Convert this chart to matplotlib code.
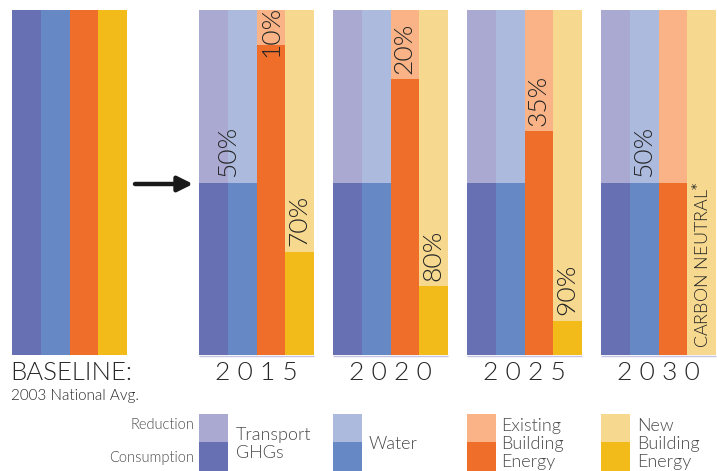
import matplotlib.pyplot as plt
from matplotlib.patches import Rectangle

plt.rcParams['font.family'] = ['Lato', 'DejaVu Sans']

# Datos: porcentaje de reduccion por anio y categoria
anios = ['2015', '2020', '2025', '2030']
transporte_red = [50, 50, 50, 50]
agua_red = [50, 50, 50, 50]
existentes_red = [10, 20, 35, 50]
nuevos_red = [70, 80, 90, 100]
linea_base = [100, 100, 100, 100]

categorias = ['Transport\nGHGs', 'Water', 'Existing\nBuilding\nEnergy', 'New\nBuilding\nEnergy']
col_consumo = ['#6870B4', '#6689C5', '#EF6F2A', '#F2BB1A']
col_reduccion = ['#A9A9D2', '#ABBADD', '#F9B386', '#F6D98F']

reducciones = [transporte_red, agua_red, existentes_red, nuevos_red]

W, H = 717, 471
fig = plt.figure(figsize=(W / 100, H / 100), dpi=100)

# eje de fondo en pixeles para leyenda y textos
fondo = fig.add_axes([0, 0, 1, 1])
fondo.set_xlim(0, W)
fondo.set_ylim(H, 0)
fondo.axis('off')

# eje principal de barras (0-100 %)
ax = fig.add_axes([0, 116 / H, 1, 345 / H])
ax.set_xlim(0, W)
ax.set_ylim(0, 100)
ax.axis('off')

ancho = 28.75
x_base = 12
x_grupos = [199, 333, 467, 601]
texto = '#262626'
peso = 300

# linea base
for j in range(4):
    ax.bar(x_base + j * ancho, linea_base[j], width=ancho, align='edge',
           color=col_consumo[j], linewidth=0)

# barras por anio
for i, x0 in enumerate(x_grupos):
    for j in range(4):
        red = reducciones[j][i]
        cons = 100 - red
        xj = x0 + j * ancho
        ax.bar(xj, cons, width=ancho, align='edge', color=col_consumo[j], linewidth=0)
        ax.bar(xj, red, bottom=cons, width=ancho, align='edge',
               color=col_reduccion[j], linewidth=0)
    ax.hlines(-0.4, x0, x0 + 4 * ancho, color='#C5C5E3', lw=1, clip_on=False)
    fondo.text(x0 + 2 * ancho, 373, ' '.join(anios[i]), ha='center', va='center',
               fontsize=19, color=texto, fontweight=peso)

# etiquetas de porcentaje (anio, categoria, columna x)
etiquetas = [(0, 0, 1.0), (0, 2, 2.5), (0, 3, 3.5),
             (1, 2, 2.5), (1, 3, 3.5),
             (2, 2, 2.5), (2, 3, 3.5),
             (3, 1, 1.5)]
for i, j, col in etiquetas:
    red = reducciones[j][i]
    y = min(100 - red + 1.5, 86.5)
    ax.text(x_grupos[i] + col * ancho, y, f'{red}%', rotation=90,
            rotation_mode='anchor', ha='left', va='center',
            fontsize=19, color=texto, fontweight=peso)

ax.text(x_grupos[3] + 3.5 * ancho, 2, r'CARBON NEUTRAL$^{*}$', rotation=90,
        rotation_mode='anchor', ha='left', va='center',
        fontsize=13, color=texto, fontweight=peso)

# flecha
fondo.annotate('', xy=(193, 184), xytext=(135, 184),
               arrowprops=dict(arrowstyle='-|>,head_length=0.9,head_width=0.45',
                               color='#1a1a1a', lw=3.2, shrinkA=0, shrinkB=0))

# textos de linea base
fondo.text(10, 373, 'BASELINE:', ha='left', va='center', fontsize=18.5,
           color=texto, fontweight=peso)
fondo.text(11, 396, '2003 National Avg.', ha='left', va='center', fontsize=11,
           color=texto, fontweight=peso)

# leyenda
fondo.text(194, 425, 'Reduction', ha='right', va='center', fontsize=10.5,
           color='#4a4a4a', fontweight=peso)
fondo.text(194, 458, 'Consumption', ha='right', va='center', fontsize=10.5,
           color='#4a4a4a', fontweight=peso)
x_texto = [236, 369, 501, 637]
for j, x0 in enumerate(x_grupos):
    fondo.add_patch(Rectangle((x0, 414), 29, 28, color=col_reduccion[j], lw=0))
    fondo.add_patch(Rectangle((x0, 442), 29, 30, color=col_consumo[j], lw=0))
    fondo.text(x_texto[j], 444, categorias[j], ha='left', va='center', fontsize=13,
               color='#4a4a4a', linespacing=1.15, fontweight=peso)

fig.savefig('out.png', dpi=100)
